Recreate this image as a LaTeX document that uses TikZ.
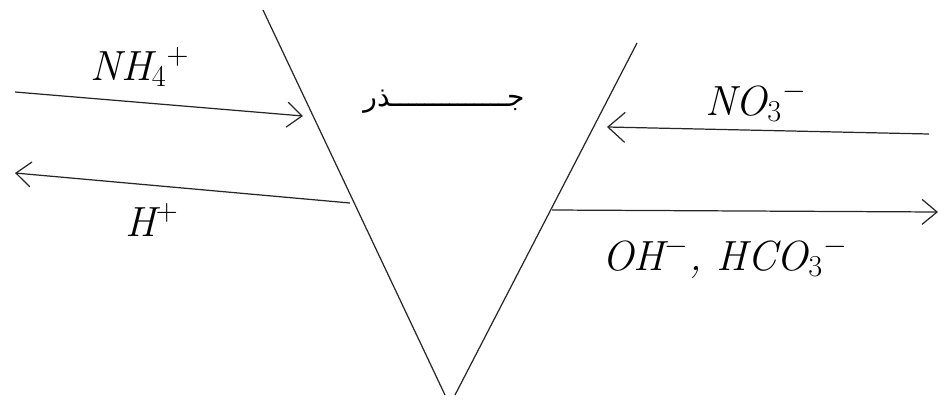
\documentclass[tikz,border=0pt]{standalone}
\usepackage{fontspec}
\newfontfamily\arabicfont[Script=Arabic]{DejaVu Sans}
\TeXXeTstate=1
\usetikzlibrary{arrows.meta}

\begin{document}
\begin{tikzpicture}[
  x=0.02cm, y=-0.02cm,
  wall/.style={draw=black!85, line width=0.7pt},
  flux/.style={wall, -{Straight Barb[length=3mm, width=5mm]}},
  ion/.style={inner sep=0pt, anchor=base, font=\fontsize{24}{26}\selectfont\itshape}
]
\useasboundingbox (0,0) rectangle (941,403);
% ----- root walls (V) -----
\coordinate (ltop) at (263,10);
\coordinate (lbot) at (445,395);
\coordinate (rtop) at (637,43);
\coordinate (rbot) at (455,395);
\draw[wall] (ltop) -- (lbot);
\draw[wall] (rtop) -- (rbot);
\node[inner sep=0pt, anchor=base, font=\fontsize{16}{18}\selectfont] (root) at (444,106)
  {\arabicfont\beginR جــــــــــــــذر\endR};
% ----- left side: NH4+ in, H+ out -----
\coordinate (nhs) at (15,92);
\coordinate (nhe) at (303,116);
\coordinate (hs)  at (350,203);
\coordinate (he)  at (15,173);
\draw[flux] (nhs) -- (nhe);
\draw[flux] (hs) -- (he);
\node[ion] (nh4) at (140,80)  {NH$_4{}^+$};
\node[ion] (hp)  at (152,236) {H$^+$};
% ----- right side: NO3- in, OH-, HCO3- out -----
\coordinate (nos) at (929,134);
\coordinate (noe) at (607,127);
\coordinate (ohs) at (552,210);
\coordinate (ohe) at (938,212);
\draw[flux, -{Straight Barb[length=3.4mm, width=6mm]}] (nos) -- (noe);
\draw[flux] (ohs) -- (ohe);
\node[ion] (no3) at (756,115) {NO$_3{}^-$};
\node[ion] (oh)  at (725,270) {OH$^-$, HCO$_3{}^-$};
\end{tikzpicture}
\end{document}
